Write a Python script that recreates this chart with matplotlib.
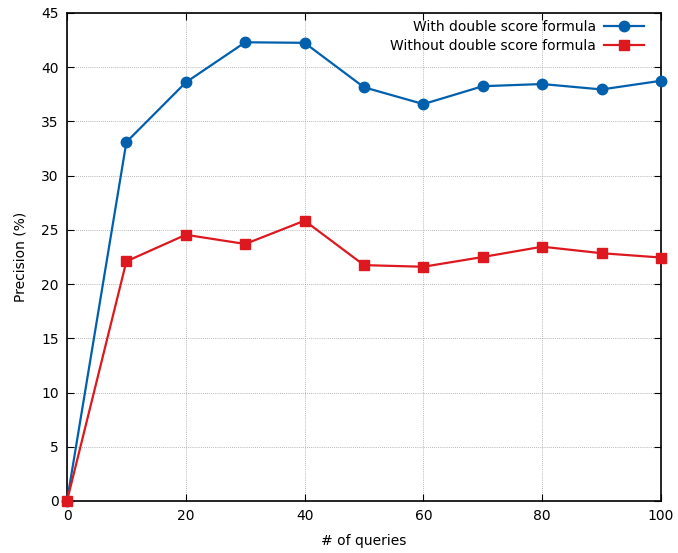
import matplotlib
matplotlib.use("Agg")
import matplotlib.pyplot as plt

queries = [0, 10, 20, 30, 40, 50, 60, 70, 80, 90, 100]
with_double = [0, 33.1, 38.6, 42.3, 42.25, 38.15, 36.6, 38.25, 38.45, 37.95, 38.75]
without_double = [0, 22.1, 24.55, 23.7, 25.85, 21.75, 21.6, 22.5, 23.45, 22.85, 22.45]
xticks = [0, 20, 40, 60, 80, 100]
yticks = [0, 5, 10, 15, 20, 25, 30, 35, 40, 45]

fig = plt.figure(figsize=(6.78, 5.53), dpi=100)
ax = fig.add_axes([67/678, 1-501/553, (661-67)/678, (501-13)/553])

ax.plot(queries, with_double, color='#0060ad', lw=1.6, marker='o', ms=7.5,
        label='With double score formula', clip_on=False, zorder=3)
ax.plot(queries, without_double, color='#dd181f', lw=1.6, marker='s', ms=7.5,
        label='Without double score formula', clip_on=False, zorder=4)

ax.set_xlim(0, 100)
ax.set_ylim(0, 45)
ax.set_xticks(xticks)
ax.set_yticks(yticks)
ax.tick_params(direction='in', top=True, right=True, length=5, labelsize=10, pad=6)
ax.grid(True, color='#a0a0a0', linestyle=(0, (1, 1.5)), lw=0.6)
for s in ax.spines.values():
    s.set_linewidth(1.2)
ax.set_xlabel('# of queries', fontsize=10, labelpad=8)
ax.set_ylabel('Precision (%)', fontsize=10, labelpad=10)
ax.legend(loc='upper right', bbox_to_anchor=(1 - 7/594, 1 + 3/488),
          frameon=False, markerfirst=False, fontsize=10,
          handlelength=2.9, borderaxespad=0.3, labelspacing=0.35,
          handletextpad=0.6)
leg = ax.get_legend()
for t in leg.get_texts():
    t.set_ha('right')
leg._legend_box.align = 'right'

fig.savefig('out.png', dpi=100)
